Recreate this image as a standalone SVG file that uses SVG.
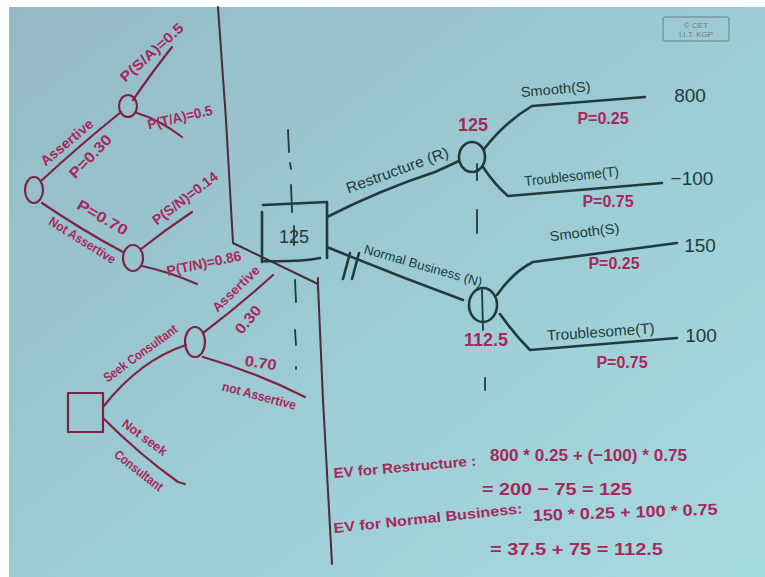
<svg xmlns="http://www.w3.org/2000/svg" width="765" height="577" viewBox="0 0 765 577">
<defs>
<linearGradient id="bg" x1="0" y1="0" x2="1" y2="1">
<stop offset="0" stop-color="#94bac5"/>
<stop offset="0.5" stop-color="#9ccbd3"/>
<stop offset="1" stop-color="#a6dbe0"/>
</linearGradient>
<style>
.rl{fill:none;stroke:#7d2446;stroke-width:2.2;stroke-linecap:round;stroke-linejoin:round}
.dv{fill:none;stroke:#4a2a3c;stroke-width:2;stroke-linecap:round;stroke-linejoin:round}
.bl{fill:none;stroke:#213b3d;stroke-width:2.6;stroke-linecap:round;stroke-linejoin:round}
.dash{fill:none;stroke:#213b3d;stroke-width:1.8;stroke-linecap:round}
.rt{font-family:"Liberation Sans",sans-serif;fill:#a8285a;font-weight:bold}
.bt{font-family:"Liberation Sans",sans-serif;fill:#213b3d}
.st{font-family:"Liberation Sans",sans-serif;fill:#6d7f84}
</style>
</defs>
<rect width="765" height="577" fill="#ffffff"/>
<rect x="9" y="7" width="756" height="570" fill="url(#bg)"/>

<!-- stamp -->
<g id="stamp">
<rect x="663" y="17" width="66" height="24" rx="2" fill="none" stroke="#6d7f84" stroke-width="1"/>
<text class="st" x="696" y="27.5" font-size="8" text-anchor="middle">© CET</text>
<text class="st" x="696" y="37" font-size="8" text-anchor="middle">I.I.T. KGP</text>
</g>

<!-- divider -->
<path class="dv" d="M218,7 L226,120 L233,243 L318,284 M318,278 L318,290 M318,285 L323,400 L332,564"/>

<g id="connectors">
<!-- left tree -->
<path class="rl" d="M41,181 Q80,145 121,112"/>
<path class="rl" d="M133,100 Q150,75 172,47"/>
<path class="rl" d="M137,113 Q160,120 182,137"/>
<path class="rl" d="M42,203 Q85,232 123,252"/>
<path class="rl" d="M141,249 Q165,230 192,212"/>
<path class="rl" d="M142,266 Q170,272 197,284"/>
<!-- lower left tree -->
<path class="rl" d="M103,407 Q140,360 186,345"/>
<path class="rl" d="M203,333 Q240,305 273,275"/>
<path class="rl" d="M203,357 Q255,372 305,397"/>
<path class="rl" d="M103,418 Q140,455 178,482 L185,484"/>
<!-- main tree -->
<path class="bl" d="M327,217 Q380,190 435,172 L459,161"/>
<path class="bl" d="M484,149 Q505,122 532,106 L645,97"/>
<path class="bl" d="M483,167 Q495,185 508,196 L662,183"/>
<path class="bl" d="M327,247 Q395,275 463,300"/>
<path class="bl" d="M343,279 L350,253 M352,279 L359,253" stroke-width="2"/>
<path class="bl" d="M497,295 Q513,272 533,262 L677,243"/>
<path class="bl" d="M500,314 Q515,335 530,350 L677,338"/>
<!-- dashed guides -->
<path class="dash" d="M288,130 L289,152 M290,163 L291,169 M291,185 L292,212 M294,226 L294,245 M295,280 L296,302 M295,330 L296,345 M296,367 L296,369"/>
<path class="dash" d="M477,164 L477,180 M477,210 L477,233 M482,290 L483,330 M485,378 L485,390"/>
</g>

<!-- nodes -->
<g id="node-root"><ellipse class="rl" cx="34" cy="190" rx="9" ry="13"/></g>
<g id="node-A"><ellipse class="rl" cx="128" cy="106" rx="9" ry="11"/></g>
<g id="node-N"><ellipse class="rl" cx="133" cy="258" rx="10" ry="13"/></g>
<g id="node-decision-left"><rect class="rl" x="68" y="393" width="35" height="39"/></g>
<g id="node-consult"><ellipse class="rl" cx="195" cy="342" rx="10" ry="15"/></g>
<g id="node-decision-main">
<path class="bl" d="M263,205 L327,202 L327,258 M320,258 Q300,262 262,261 M262,262 L262,212"/>
<text class="bt" x="294" y="243" font-size="18" text-anchor="middle">125</text>
</g>
<g id="node-R"><ellipse class="bl" cx="472" cy="157" rx="13" ry="15"/></g>
<g id="node-NB"><ellipse class="bl" cx="483" cy="305" rx="14" ry="17"/></g>

<!-- left tree labels -->
<g id="labels-left">
<text class="rt" font-size="14" text-anchor="middle" transform="translate(70,146) rotate(-40)" textLength="64" lengthAdjust="spacingAndGlyphs">Assertive</text>
<text class="rt" font-size="15" text-anchor="middle" transform="translate(94,160) rotate(-46)" textLength="54" lengthAdjust="spacingAndGlyphs">P=0.30</text>
<text class="rt" font-size="14" text-anchor="middle" transform="translate(155,56) rotate(-42)" textLength="80" lengthAdjust="spacingAndGlyphs">P(S/A)=0.5</text>
<text class="rt" font-size="14" text-anchor="middle" transform="translate(181,122) rotate(-13)" textLength="66" lengthAdjust="spacingAndGlyphs">P(T/A)=0.5</text>
<text class="rt" font-size="15" text-anchor="middle" transform="translate(100,222) rotate(30)" textLength="56" lengthAdjust="spacingAndGlyphs">P=0.70</text>
<text class="rt" font-size="13" text-anchor="middle" transform="translate(80,244) rotate(32)" textLength="76" lengthAdjust="spacingAndGlyphs">Not Assertive</text>
<text class="rt" font-size="14" text-anchor="middle" transform="translate(188,202) rotate(-37)" textLength="78" lengthAdjust="spacingAndGlyphs">P(S/N)=0.14</text>
<text class="rt" font-size="14" text-anchor="middle" transform="translate(205,268) rotate(-12)" textLength="76" lengthAdjust="spacingAndGlyphs">P(T/N)=0.86</text>
<text class="rt" font-size="13" text-anchor="middle" transform="translate(143,357) rotate(-36)" textLength="88" lengthAdjust="spacingAndGlyphs">Seek Consultant</text>
<text class="rt" font-size="13" text-anchor="middle" transform="translate(239,292) rotate(-44)" textLength="60" lengthAdjust="spacingAndGlyphs">Assertive</text>
<text class="rt" font-size="15" text-anchor="middle" transform="translate(252,323) rotate(-50)" textLength="32" lengthAdjust="spacingAndGlyphs">0.30</text>
<text class="rt" font-size="15" text-anchor="middle" transform="translate(260,368) rotate(8)" textLength="32" lengthAdjust="spacingAndGlyphs">0.70</text>
<text class="rt" font-size="13" text-anchor="middle" transform="translate(258,400) rotate(15)" textLength="76" lengthAdjust="spacingAndGlyphs">not Assertive</text>
<text class="rt" font-size="13" text-anchor="middle" transform="translate(142,441) rotate(36)" textLength="52" lengthAdjust="spacingAndGlyphs">Not seek</text>
<text class="rt" font-size="13" text-anchor="middle" transform="translate(136,474) rotate(38)" textLength="58" lengthAdjust="spacingAndGlyphs">Consultant</text>
</g>

<!-- main tree labels -->
<g id="labels-main">
<text class="bt" font-size="15" text-anchor="middle" transform="translate(399,175) rotate(-20)" textLength="108" lengthAdjust="spacingAndGlyphs">Restructure (R)</text>
<text class="rt" font-size="18" font-weight="normal" text-anchor="middle" x="473" y="131">125</text>
<text class="bt" font-size="14" text-anchor="middle" transform="translate(556,94) rotate(-5)" textLength="70" lengthAdjust="spacingAndGlyphs">Smooth(S)</text>
<text class="rt" font-size="16" font-weight="normal" text-anchor="middle" x="603" y="124">P=0.25</text>
<text class="bt" font-size="19" text-anchor="middle" x="690" y="102">800</text>
<text class="bt" font-size="14" text-anchor="middle" transform="translate(572,181) rotate(-6)" textLength="95" lengthAdjust="spacingAndGlyphs">Troublesome(T)</text>
<text class="rt" font-size="16" font-weight="normal" text-anchor="middle" x="608" y="207">P=0.75</text>
<text class="bt" font-size="19" text-anchor="middle" x="692" y="185">−100</text>
<text class="bt" font-size="13" text-anchor="middle" transform="translate(422,270) rotate(16)" textLength="122" lengthAdjust="spacingAndGlyphs">Normal Business (N)</text>
<text class="rt" font-size="18" font-weight="normal" text-anchor="middle" x="486" y="346">112.5</text>
<text class="bt" font-size="14" text-anchor="middle" transform="translate(585,237) rotate(-7)" textLength="70" lengthAdjust="spacingAndGlyphs">Smooth(S)</text>
<text class="rt" font-size="16" font-weight="normal" text-anchor="middle" x="614" y="269">P=0.25</text>
<text class="bt" font-size="19" text-anchor="middle" x="700" y="252">150</text>
<text class="bt" font-size="15" text-anchor="middle" transform="translate(601,337) rotate(-4)" textLength="108" lengthAdjust="spacingAndGlyphs">Troublesome(T)</text>
<text class="rt" font-size="16" font-weight="normal" text-anchor="middle" x="622" y="368">P=0.75</text>
<text class="bt" font-size="19" text-anchor="middle" x="701" y="342">100</text>
</g>

<!-- expected value notes -->
<g id="ev-notes">
<text class="rt" font-size="14" transform="translate(334,478) rotate(-5)" textLength="143" lengthAdjust="spacingAndGlyphs">EV for Restructure :</text>
<text class="rt" font-size="17" x="490" y="461" textLength="197" lengthAdjust="spacingAndGlyphs">800 * 0.25 + (−100) * 0.75</text>
<text class="rt" font-size="17" x="482" y="495" textLength="150" lengthAdjust="spacingAndGlyphs">= 200 − 75 = 125</text>
<text class="rt" font-size="14" transform="translate(334,533) rotate(-6)" textLength="190" lengthAdjust="spacingAndGlyphs">EV for Normal Business:</text>
<text class="rt" font-size="16" transform="translate(533,521) rotate(-2)" textLength="185" lengthAdjust="spacingAndGlyphs">150 * 0.25 + 100 * 0.75</text>
<text class="rt" font-size="17" x="490" y="555" textLength="173" lengthAdjust="spacingAndGlyphs">= 37.5 + 75 = 112.5</text>
</g>
</svg>
